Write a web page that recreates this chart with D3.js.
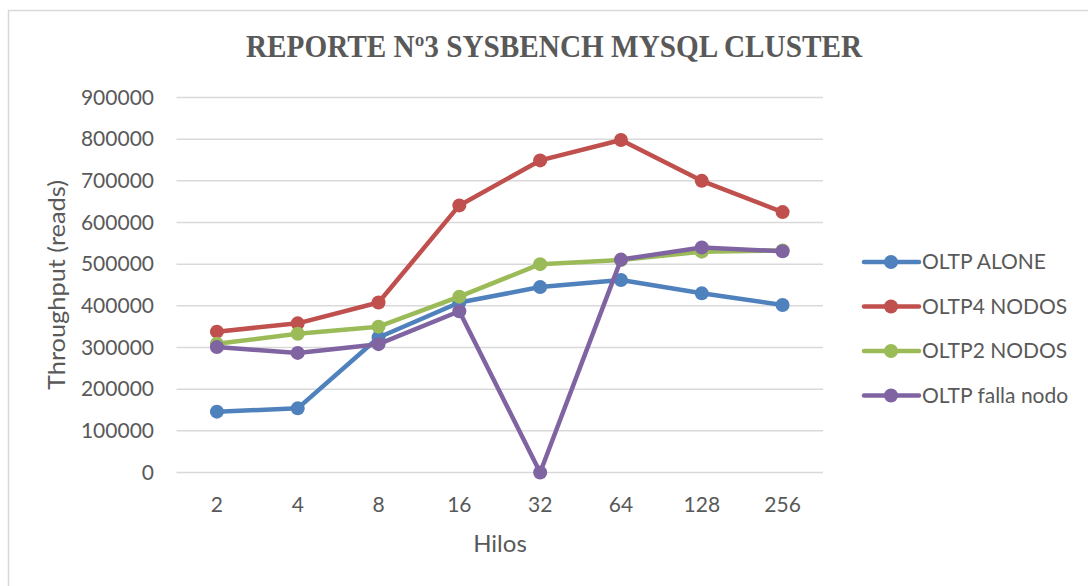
<!DOCTYPE html>
<html>
<head>
<meta charset="utf-8">
<script src="https://cdn.jsdelivr.net/npm/d3@7"></script>
<style>
  body { margin: 0; background: #fff; }
  text { font-family: Lato, "Open Sans", sans-serif; fill: #595959; }
  .title { font-family: "Liberation Serif", "DejaVu Serif", serif; font-weight: bold; }
  .grid line { stroke: #d9d9d9; stroke-width: 1.5; }
</style>
</head>
<body>
<div id="chart"></div>
<script>
//DATA
const hilos = ["2", "4", "8", "16", "32", "64", "128", "256"]
const seriesNames = ["OLTP ALONE", "OLTP4 NODOS", "OLTP2 NODOS", "OLTP falla nodo"]
const oltpAlone    = [146000, 154000, 324000, 408000, 445000, 462000, 430000, 402000]
const oltp4Nodos   = [338000, 358000, 408000, 641000, 749000, 798000, 700000, 625000]
const oltp2Nodos   = [309000, 333000, 350000, 422000, 500000, 510000, 530000, 533000]
const oltpFalla    = [301000, 287000, 308000, 387000, 0, 511000, 540000, 531000]
const yTicks = [0, 100000, 200000, 300000, 400000, 500000, 600000, 700000, 800000, 900000]
const colors = ["#4f81bd", "#c0504d", "#9bbb59", "#8064a2"]

const series = [oltpAlone, oltp4Nodos, oltp2Nodos, oltpFalla]
  .map((v, i) => ({ name: seriesNames[i], values: v, color: colors[i] }))

//CANVAS
const WIDTH = 1088, HEIGHT = 586
const PLOT = { LEFT: 176.5, RIGHT: 823, TOP: 97.5, BOTTOM: 472.5 }

const svg = d3.select("#chart").append("svg")
  .attr("width", WIDTH)
  .attr("height", HEIGHT)

// frame
svg.append("rect")
  .attr("x", 8.5).attr("y", 10.5)
  .attr("width", 1200).attr("height", 700)
  .attr("fill", "#fff")
  .attr("stroke", "#d9d9d9")
  .attr("stroke-width", 1.5)

//SCALES
const xScale = d3.scaleBand()
  .domain(hilos)
  .range([PLOT.LEFT, PLOT.RIGHT])
const yScale = d3.scaleLinear()
  .domain([0, 900000])
  .range([PLOT.BOTTOM, PLOT.TOP])

// GRID
const gGrid = svg.append("g").attr("class", "grid")
gGrid.selectAll("line").data(yTicks).join("line")
  .attr("x1", PLOT.LEFT).attr("x2", PLOT.RIGHT)
  .attr("y1", d => yScale(d)).attr("y2", d => yScale(d))

//AXES
const yAxis = d3.axisLeft(yScale).tickValues(yTicks).tickSize(0).tickPadding(22.5).tickFormat(d3.format("d"))
const gY = svg.append("g").attr("transform", `translate(${PLOT.LEFT},0)`).call(yAxis)
gY.select(".domain").remove()
gY.selectAll("text").attr("font-size", 21).attr("font-family", null).style("fill", "#595959")

const xAxis = d3.axisBottom(xScale).tickSize(0).tickPadding(24.5)
const gX = svg.append("g").attr("transform", `translate(0,${PLOT.BOTTOM})`).call(xAxis)
gX.select(".domain").remove()
gX.selectAll("text").attr("font-size", 21).attr("font-family", null).style("fill", "#595959")

//LABELS
svg.append("text").attr("class", "title")
  .attr("x", 554).attr("y", 57)
  .attr("text-anchor", "middle")
  .attr("font-size", 31)
  .attr("textLength", 616)
  .attr("lengthAdjust", "spacingAndGlyphs")
  .text("REPORTE Nº3 SYSBENCH MYSQL CLUSTER")

svg.append("text")
  .attr("x", 500).attr("y", 552)
  .attr("text-anchor", "middle")
  .attr("font-size", 24)
  .text("Hilos")

svg.append("text")
  .attr("transform", `translate(65, 285) rotate(-90)`)
  .attr("text-anchor", "middle")
  .attr("font-size", 24)
  .attr("textLength", 210)
  .attr("lengthAdjust", "spacingAndGlyphs")
  .text("Throughput (reads)")

//LINES
const line = d3.line()
  .x((d, i) => xScale(hilos[i]) + xScale.bandwidth() / 2)
  .y(d => yScale(d))

const gSeries = svg.selectAll(".series").data(series).join("g").attr("class", "series")
gSeries.append("path")
  .attr("d", d => line(d.values))
  .attr("fill", "none")
  .attr("stroke", d => d.color)
  .attr("stroke-width", 4.5)
  .attr("stroke-linejoin", "round")
gSeries.selectAll("circle").data(d => d.values.map(v => ({ v, color: d.color }))).join("circle")
  .attr("cx", (d, i) => xScale(hilos[i]) + xScale.bandwidth() / 2)
  .attr("cy", d => yScale(d.v))
  .attr("r", 7)
  .attr("fill", d => d.color)

//LEGEND
const legend = svg.append("g").attr("transform", "translate(864, 262)")
const item = legend.selectAll("g").data(series).join("g")
  .attr("transform", (d, i) => `translate(0, ${i * 44.5})`)
item.append("line")
  .attr("x1", 0).attr("x2", 55)
  .attr("stroke", d => d.color)
  .attr("stroke-width", 4.5)
  .attr("stroke-linecap", "round")
item.append("circle").attr("cx", 27).attr("r", 7).attr("fill", d => d.color)
item.append("text")
  .attr("x", 58).attr("dy", "0.35em")
  .attr("font-size", 21)
  .text(d => d.name)
</script>
</body>
</html>
